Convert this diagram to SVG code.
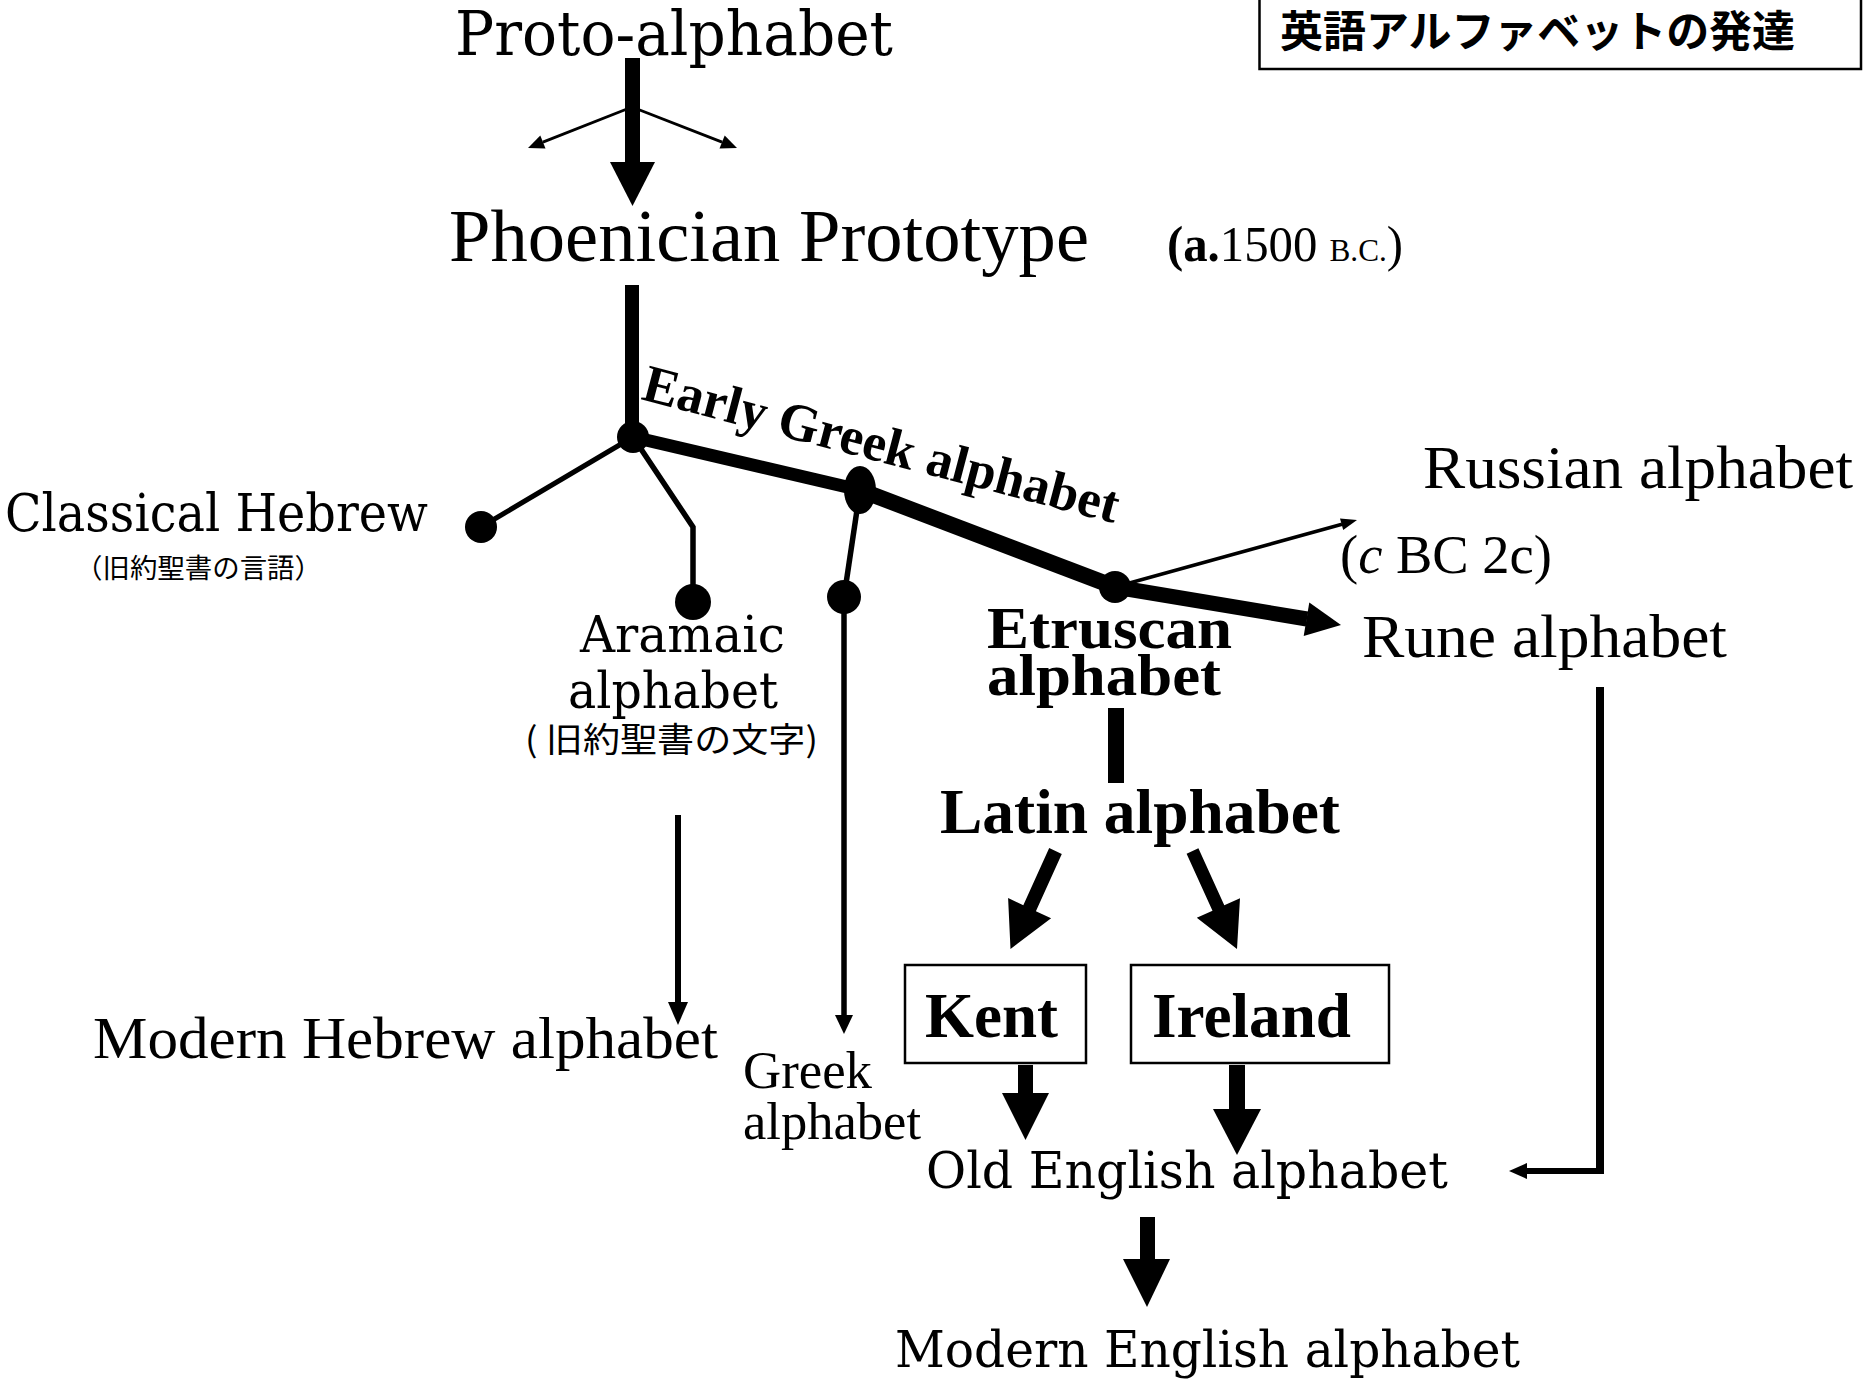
<svg xmlns="http://www.w3.org/2000/svg" width="1864" height="1383" viewBox="0 0 1864 1383">
<style>
.c{font-family:"DejaVu Serif","Liberation Serif",serif;fill:#000}
.t{font-family:"Liberation Serif","Times New Roman",serif;fill:#000}
.b{font-weight:bold}
.j{font-family:"Noto Sans CJK JP","Noto Sans",sans-serif;fill:#000}
.ln{stroke:#000;fill:none;stroke-linecap:butt}
.hd{fill:#000;stroke:none}
.dot{fill:#000}
.box{fill:#fff;stroke:#000;stroke-width:2.5}
</style>
<rect width="1864" height="1383" fill="#fff"/>
<g id="title">
<rect class="box" x="1259.5" y="-5" width="601.5" height="74"/>
<text class="j b" x="1280" y="47" font-size="43" textLength="515" lengthAdjust="spacingAndGlyphs">英語アルファベットの発達</text>
</g>
<g id="connectors">
<rect class="hd" x="625" y="58" width="15" height="105"/>
<polygon class="hd" points="610,162 655,162 632.5,206"/>
<line class="ln" x1="632" y1="107" x2="542.9" y2="142.1" stroke-width="2.8"/>
<polygon class="hd" points="528,148 545.5,148.6 540.3,135.6"/>
<line class="ln" x1="632" y1="107" x2="722.1" y2="142.1" stroke-width="2.8"/>
<polygon class="hd" points="737,148 719.5,148.6 724.7,135.6"/>
<rect class="hd" x="625" y="285" width="14" height="152"/>
<line class="ln" x1="633" y1="437" x2="481" y2="527" stroke-width="5"/>
<polyline class="ln" points="633,437 693,527 693,602" stroke-width="5.5"/>
<line class="ln" x1="633" y1="437" x2="860" y2="490" stroke-width="13"/>
<line class="ln" x1="860" y1="490" x2="1115" y2="587" stroke-width="16"/>
<line class="ln" x1="860" y1="490" x2="844" y2="597" stroke-width="5.5"/>
<line class="ln" x1="844" y1="597" x2="844" y2="1016" stroke-width="5.5"/>
<polygon class="hd" points="835,1015 853,1015 844,1034"/>
<line class="ln" x1="1115" y1="587" x2="1307" y2="619" stroke-width="15"/>
<polygon class="hd" points="1309.3,602.4 1341,625 1303.7,636"/>
<line class="ln" x1="1115" y1="587" x2="1342" y2="524.3" stroke-width="3.5"/>
<polygon class="hd" points="1357,520 1343.2,530.1 1340,518.5"/>
<line class="ln" x1="678" y1="815" x2="678" y2="1003" stroke-width="6"/>
<polygon class="hd" points="668,1002 688,1002 678,1025"/>
<rect class="hd" x="1108" y="708" width="16" height="75"/>
<polygon class="hd" points="1049.2,848 1061.8,854 1035.9,911.2 1051.1,918.3 1010.5,949 1008.1,898.1 1023.3,905.2"/>
<polygon class="hd" points="1186.6,853.7 1198.4,848.3 1224.3,905.3 1240,898.2 1237,949 1196.8,917.8 1212.5,910.7"/>
<rect class="hd" x="1018" y="1065" width="15" height="30"/>
<polygon class="hd" points="1002,1093 1049,1093 1025.5,1140"/>
<rect class="hd" x="1229" y="1065" width="16" height="46"/>
<polygon class="hd" points="1213,1109 1261,1109 1237,1155"/>
<line class="ln" x1="1600" y1="687" x2="1600" y2="1174" stroke-width="8"/>
<line class="ln" x1="1604" y1="1171" x2="1526" y2="1171" stroke-width="6"/>
<polygon class="hd" points="1527,1163 1527,1179 1509,1171"/>
<rect class="hd" x="1140" y="1217" width="15" height="44"/>
<polygon class="hd" points="1123,1259 1170,1259 1147,1307"/>
</g>
<g id="node-junction"><circle class="dot" cx="633" cy="437" r="16"/></g>
<g id="node-proto"><text class="c" x="455" y="55" font-size="62" textLength="438" lengthAdjust="spacingAndGlyphs">Proto-alphabet</text></g>
<g id="node-phoenician">
<text class="t" x="449" y="261" font-size="75" textLength="640" lengthAdjust="spacingAndGlyphs">Phoenician Prototype</text>
<text class="t" x="1167" y="261" font-size="50" textLength="236" lengthAdjust="spacingAndGlyphs"><tspan class="b">(a.</tspan>1500 <tspan font-size="32">B.C.</tspan>)</text>
</g>
<g id="node-hebrew">
<circle class="dot" cx="481" cy="527" r="16"/>
<text class="c" x="5" y="531" font-size="52" textLength="423" lengthAdjust="spacingAndGlyphs">Classical Hebrew</text>
<text class="j" x="75" y="578" font-size="27" textLength="247" lengthAdjust="spacingAndGlyphs">（旧約聖書の言語）</text>
</g>
<g id="node-aramaic">
<circle class="dot" cx="693" cy="602" r="18"/>
<text class="c" x="580" y="652" font-size="51" textLength="205" lengthAdjust="spacingAndGlyphs">Aramaic</text>
<text class="c" x="568" y="708" font-size="51" textLength="210" lengthAdjust="spacingAndGlyphs">alphabet</text>
<text class="j" x="525" y="752" font-size="34" textLength="293" lengthAdjust="spacingAndGlyphs">( 旧約聖書の文字)</text>
</g>
<g id="node-early-greek">
<ellipse class="dot" cx="860" cy="490" rx="16" ry="24"/>
<text class="t b" transform="translate(640,399) rotate(14.7)" x="0" y="0" font-size="53" textLength="490" lengthAdjust="spacingAndGlyphs">Early Greek alphabet</text>
</g>
<g id="node-greek">
<circle class="dot" cx="844" cy="597" r="17"/>
<text class="t" x="743" y="1088" font-size="52" textLength="129" lengthAdjust="spacingAndGlyphs">Greek</text>
<text class="t" x="743" y="1139" font-size="52" textLength="178" lengthAdjust="spacingAndGlyphs">alphabet</text>
</g>
<g id="node-modern-hebrew"><text class="t" x="93" y="1058" font-size="60" textLength="625" lengthAdjust="spacingAndGlyphs">Modern Hebrew alphabet</text></g>
<g id="node-etruscan">
<circle class="dot" cx="1115" cy="587" r="16"/>
<text class="t b" x="987" y="648" font-size="60" textLength="245" lengthAdjust="spacingAndGlyphs">Etruscan</text>
<text class="t b" x="987" y="695" font-size="60" textLength="234" lengthAdjust="spacingAndGlyphs">alphabet</text>
</g>
<g id="node-russian">
<text class="t" x="1423" y="488" font-size="62" textLength="430" lengthAdjust="spacingAndGlyphs">Russian alphabet</text>
<text class="t" x="1340" y="573" font-size="54" textLength="212" lengthAdjust="spacingAndGlyphs">(<tspan font-style="italic">c</tspan> BC 2c)</text>
</g>
<g id="node-rune"><text class="t" x="1362" y="657" font-size="62" textLength="365" lengthAdjust="spacingAndGlyphs">Rune alphabet</text></g>
<g id="node-latin"><text class="t b" x="940" y="833" font-size="63" textLength="400" lengthAdjust="spacingAndGlyphs">Latin alphabet</text></g>
<g id="node-kent">
<rect class="box" x="905" y="965" width="181" height="98"/>
<text class="t b" x="925" y="1037" font-size="64" textLength="133" lengthAdjust="spacingAndGlyphs">Kent</text>
</g>
<g id="node-ireland">
<rect class="box" x="1131" y="965" width="258" height="98"/>
<text class="t b" x="1152" y="1037" font-size="64" textLength="199" lengthAdjust="spacingAndGlyphs">Ireland</text>
</g>
<g id="node-old-english"><text class="c" x="926" y="1188" font-size="51" textLength="522" lengthAdjust="spacingAndGlyphs">Old English alphabet</text></g>
<g id="node-modern-english"><text class="c" x="895" y="1367" font-size="50" textLength="625" lengthAdjust="spacingAndGlyphs">Modern English alphabet</text></g>
</svg>
